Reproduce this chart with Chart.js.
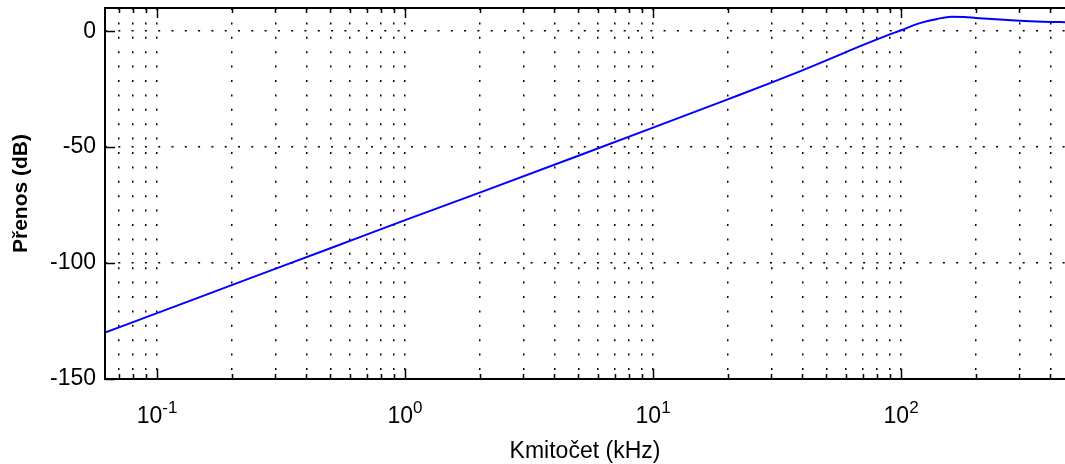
<!DOCTYPE html>
<html>
<head>
<meta charset="utf-8">
<script src="https://cdn.jsdelivr.net/npm/chart.js@4/dist/chart.umd.min.js"></script>
<style>
html,body{margin:0;padding:0;background:#fff;}
#wrap{width:1065px;height:464px;position:relative;}
</style>
</head>
<body>
<div id="wrap"><canvas id="c"></canvas></div>
<script>
// Frequency (kHz) and transfer (dB)
const freqKHz = [0.0617, 0.1, 0.2, 0.5, 1, 2, 5, 10, 20, 30, 40, 50, 60, 70, 80, 90, 100, 110, 120, 140, 160, 180, 200, 250, 300, 350, 400, 460];
const gainDB  = [-130, -121.6, -109.5, -93.6, -81.5, -69.6, -53.7, -41.6, -29.4, -22.2, -16.9, -12.6, -9.0, -6.0, -3.5, -1.4, 0.4, 2.2, 3.6, 5.3, 6.2, 6.1, 5.7, 5.0, 4.5, 4.2, 4.0, 3.9];

const xTickValues = [0.07,0.08,0.09,0.1,0.2,0.3,0.4,0.5,0.6,0.7,0.8,0.9,1,2,3,4,5,6,7,8,9,10,20,30,40,50,60,70,80,90,100,200,300,400];
const xMajorValues = [0.1, 1, 10, 100];
const xMajorBase = '10';
const xMajorExponents = ['-1', '0', '1', '2'];
const yTickValues = [-150, -100, -50, 0];
const xRange = [0.0617, 458];
const yRange = [-150, 10];

const FONT = 'Liberation Sans, Arial, sans-serif';

const boxTicks = {
  id: 'boxTicks',
  afterDraw(chart) {
    const {ctx, chartArea: {left, right, top, bottom}, scales: {x, y}} = chart;
    ctx.save();
    ctx.strokeStyle = '#000';
    ctx.lineWidth = 2;
    ctx.beginPath();
    ctx.moveTo(right + 2, top); ctx.lineTo(left, top); ctx.lineTo(left, bottom); ctx.lineTo(right + 2, bottom);
    ctx.stroke();
    ctx.lineWidth = 1.5;
    ctx.beginPath();
    xTickValues.forEach(v => {
      const px = Math.round(x.getPixelForValue(v)) + 0.5;
      const len = xMajorValues.includes(v) ? 10 : 5;
      ctx.moveTo(px, bottom); ctx.lineTo(px, bottom - len);
      ctx.moveTo(px, top); ctx.lineTo(px, top + len);
    });
    yTickValues.forEach(v => {
      const py = Math.round(y.getPixelForValue(v)) + 0.5;
      ctx.moveTo(left, py); ctx.lineTo(left + 10, py);
    });
    ctx.stroke();
    // major x tick labels: 10 with superscript exponent
    ctx.fillStyle = '#000';
    ctx.textBaseline = 'alphabetic';
    ctx.textAlign = 'left';
    xMajorValues.forEach((v, i) => {
      const px = x.getPixelForValue(v);
      ctx.font = '23px ' + FONT;
      const wb = ctx.measureText(xMajorBase).width;
      ctx.font = '17px ' + FONT;
      const we = ctx.measureText(xMajorExponents[i]).width;
      const x0 = px - (wb + we) / 2;
      ctx.font = '23px ' + FONT;
      ctx.fillText(xMajorBase, x0, bottom + 44);
      ctx.font = '17px ' + FONT;
      ctx.fillText(xMajorExponents[i], x0 + wb, bottom + 34);
    });
    ctx.restore();
  }
};

new Chart(document.getElementById('c'), {
  type: 'line',
  data: {
    datasets: [{
      data: freqKHz.map((f, i) => ({x: f, y: gainDB[i]})),
      borderColor: '#0000ff',
      borderWidth: 2,
      pointRadius: 0,
      cubicInterpolationMode: 'monotone',
      fill: false
    }]
  },
  options: {
    responsive: true,
    maintainAspectRatio: false,
    animation: false,
    layout: {padding: {top: 8, right: 0, left: 0, bottom: 0}},
    plugins: {legend: {display: false}, tooltip: {enabled: false}},
    scales: {
      x: {
        type: 'logarithmic',
        min: xRange[0], max: xRange[1],
        afterBuildTicks: s => { s.ticks = xTickValues.map(v => ({value: v})); },
        afterFit: s => { s.height = 85; s.paddingLeft = 0; s.paddingRight = 0; },
        ticks: {
          display: false,
          autoSkip: false, maxRotation: 0, minRotation: 0
        },
        grid: {color: '#000', lineWidth: 1.5, drawTicks: false},
        border: {display: false, dash: [2, 12.4]},
        title: {display: true, text: 'Kmitočet (kHz)', color: '#000',
          font: {family: FONT, size: 23}, padding: {top: 0, bottom: -1}}
      },
      y: {
        min: yRange[0], max: yRange[1],
        afterBuildTicks: s => { s.ticks = yTickValues.map(v => ({value: v})); },
        afterFit: s => { s.width = 105; s.paddingTop = 0; s.paddingBottom = 0; },
        ticks: {
          padding: 9,
          color: '#000',
          font: {family: FONT, size: 23}
        },
        grid: {color: '#000', lineWidth: 1.5, drawTicks: false},
        border: {display: false, dash: [2, 11.3]},
        title: {display: true, text: 'Přenos (dB)', color: '#000',
          font: {family: FONT, size: 21, weight: 'bold'}, padding: {top: 9, bottom: 0}}
      }
    }
  },
  plugins: [boxTicks]
});
</script>
</body>
</html>
